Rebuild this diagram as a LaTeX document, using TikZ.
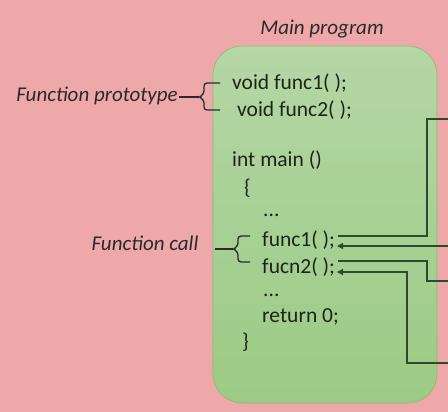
\documentclass[tikz,border=0pt]{standalone}
\usepackage{fontspec}
\setmainfont{Carlito}
\usetikzlibrary{arrows.meta}
\definecolor{bgpink}{HTML}{EEA8A9}
\definecolor{boxtop}{HTML}{B5D6A6}
\definecolor{boxbot}{HTML}{9BCB84}
\definecolor{boxline}{HTML}{8CBA76}
\definecolor{wire}{HTML}{2F4A2B}
\definecolor{codecol}{HTML}{1A2618}
\definecolor{labcol}{HTML}{2A2A2A}
\tikzset{
  code/.style={anchor=base west,inner sep=0pt,text=codecol,font=\fontsize{21.5}{24}\selectfont},
  lab/.style={anchor=base,inner sep=0pt,text=labcol,font=\fontsize{21}{24}\selectfont\itshape},
  wireline/.style={draw=wire,line width=1.4pt},
  arr/.style={wireline,-{Triangle[length=6pt,width=6pt]}},
  bracket/.style={draw=labcol,line width=1.3pt,rounded corners=3pt}
}
\begin{document}
\begin{tikzpicture}[x=1pt,y=-1pt]
\useasboundingbox (0,0) rectangle (448,412);
\fill[bgpink] (0,0) rectangle (448,412);
\shade[top color=boxtop,bottom color=boxbot,draw=boxline,line width=0.6pt,rounded corners=29pt] (213,46) rectangle (437,403);
\node[lab] (mp) at (322,35) {Main program};
\node[lab] (fp) at (97,102) {Function prototype};
\node[lab] (fc) at (145,251) {Function call};
\node[code] (p1) at (232,90) {void func1( );};
\node[code] (p2) at (237,117) {void func2( );};
\node[code] (im) at (232,167) {int main ()};
\node[code] (ob) at (244,194) {\{};
\node[code] (d1) at (263,216) {...};
\node[code] (f1) at (262,247) {func1( );};
\node[code] (f2) at (262,273) {fucn2( );};
\node[code] (d2) at (263,296) {...};
\node[code] (rt) at (262,322) {return 0;};
\node[code] (cb) at (242,348) {\}};
% prototype bracket
\coordinate (fpe) at (179,97);
\coordinate (pbt) at (199,97);
\draw[labcol,line width=1.3pt] (fpe) -- (pbt);
\draw[bracket] (220,83) -- (204,83) -- (204,94) -- (199,97) -- (204,100) -- (204,110) -- (220,110);
% call bracket
\coordinate (fce) at (215,249);
\coordinate (cbt) at (233,249);
\draw[labcol,line width=1.3pt] (fce) -- (cbt);
\draw[bracket] (250,236) -- (238,236) -- (238,246) -- (233,249) -- (238,252) -- (238,262) -- (250,262);
% connectors
\coordinate (a1) at (338,236);
\coordinate (a1k) at (427,236);
\coordinate (a1m) at (427,119);
\coordinate (a1e) at (448,119);
\draw[wireline] (a1) -- (a1k) -- (a1m) -- (a1e);
\coordinate (a2s) at (448,246);
\coordinate (a2e) at (337,246);
\draw[arr] (a2s) -- (a2e);
\coordinate (a3) at (338,261);
\coordinate (a3k) at (427,261);
\coordinate (a3m) at (427,281);
\coordinate (a3e) at (448,281);
\draw[wireline] (a3) -- (a3k) -- (a3m) -- (a3e);
\coordinate (a4s) at (448,363);
\coordinate (a4k) at (407,363);
\coordinate (a4m) at (407,272);
\coordinate (a4e) at (337,272);
\draw[arr] (a4s) -- (a4k) -- (a4m) -- (a4e);
\end{tikzpicture}
\end{document}
